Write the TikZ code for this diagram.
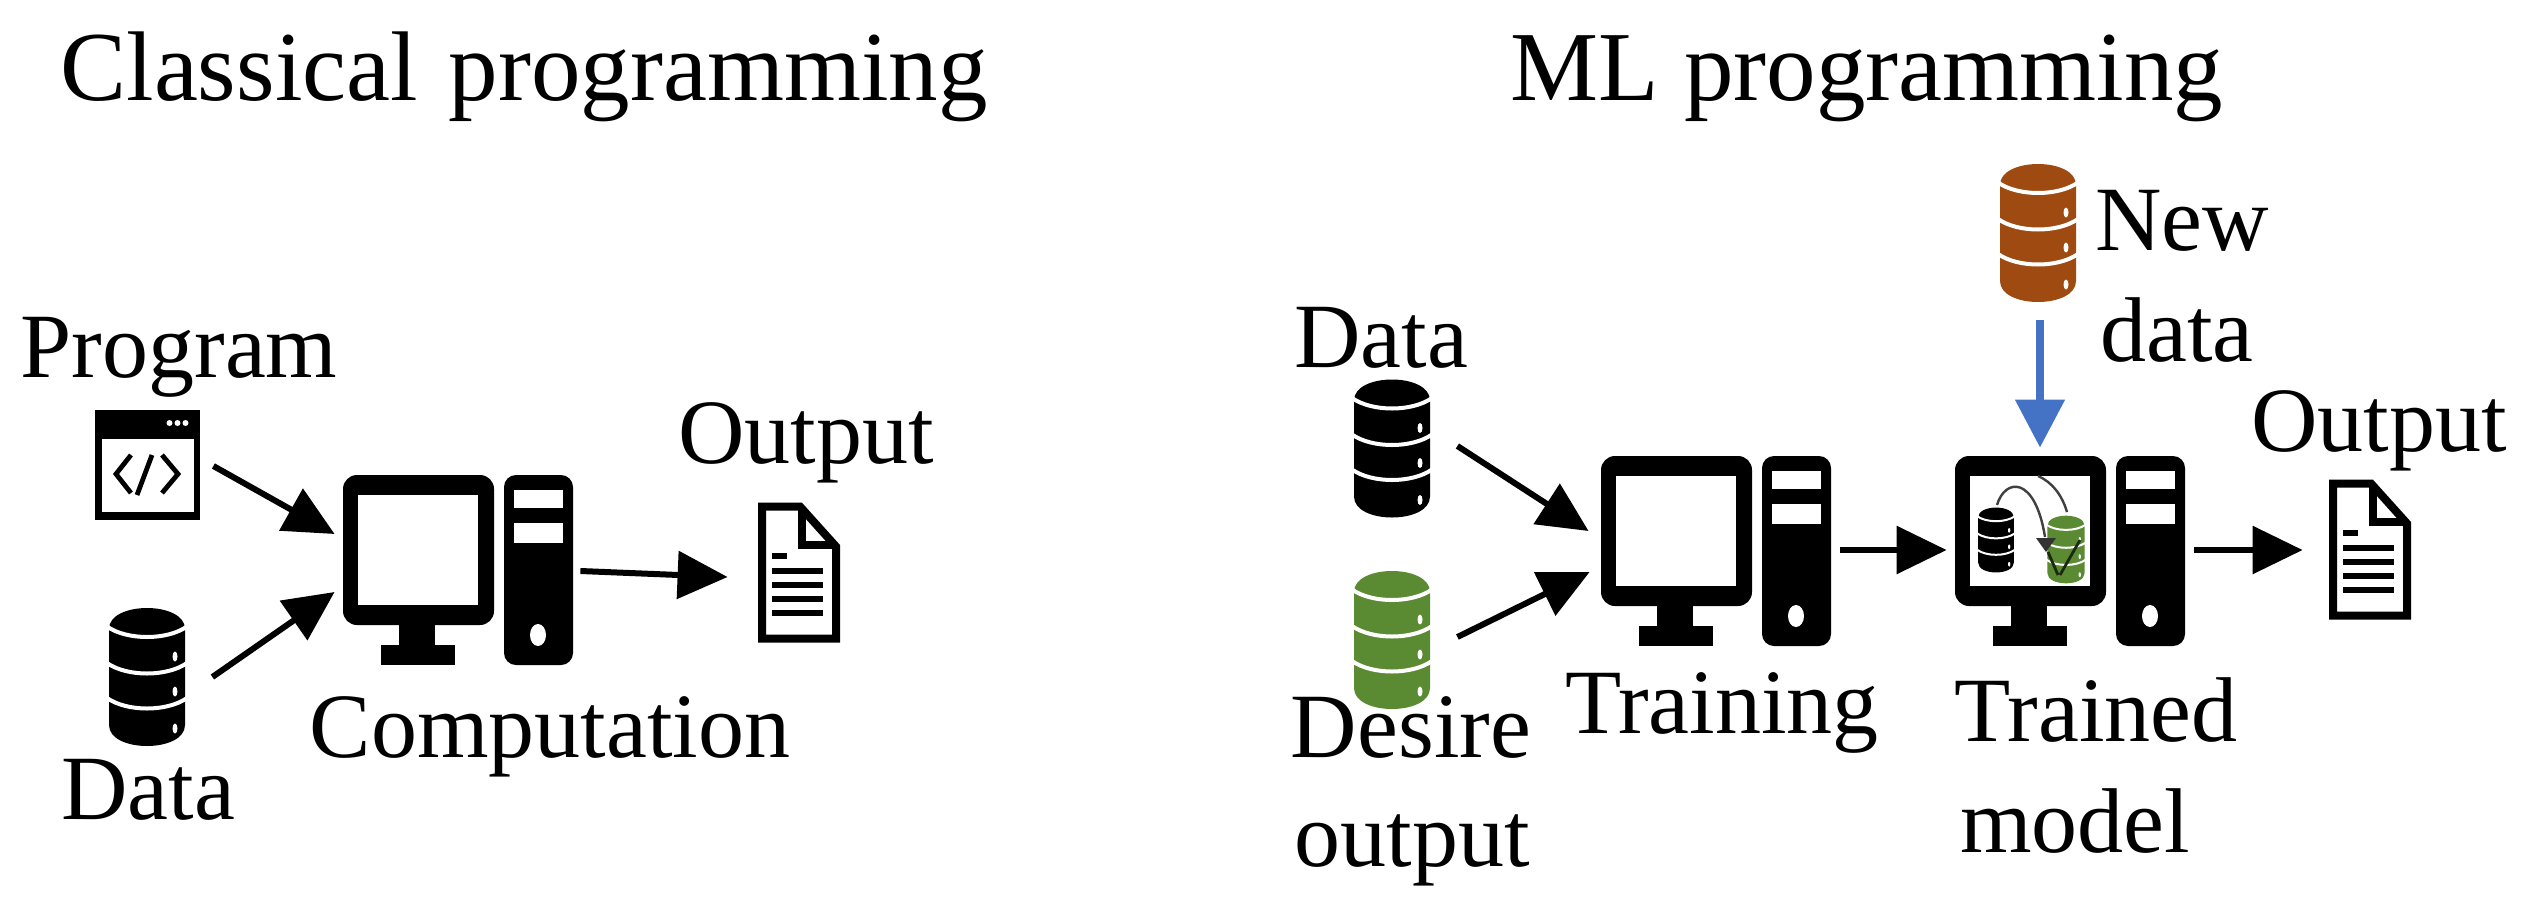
\documentclass[tikz,border=0pt]{standalone}
\usepackage{fontspec}
\setmainfont{Liberation Serif}
\usetikzlibrary{arrows.meta}
\definecolor{brownc}{HTML}{9E4A10}
\definecolor{greenc}{HTML}{5A8A32}
\definecolor{bluec}{HTML}{4472C4}
\tikzset{
  lab/.style={anchor=base,inner sep=0pt,font=\fontsize{46}{50}\selectfont},
  ttl/.style={anchor=base,inner sep=0pt,font=\fontsize{49.5}{54}\selectfont},
  box/.style={inner sep=0pt,draw=none},
  arr/.style={line width=3pt,-{Triangle[length=25pt,width=23.5pt]}},
  bluearr/.style={line width=4pt,bluec,-{Triangle[length=24pt,width=24pt]}},
  hole/.style={fill=white,draw=none}
}
% computer icon, centred at #1
\newcommand{\computericon}[1]{%
  \begin{scope}[shift={(#1)}]
    \fill[rounded corners=7pt] (-115,-95) rectangle (36,55);
    \fill[hole] (-100,-75) rectangle (20,35);
    \fill (-59,55) rectangle (-23,76);
    \fill (-77,75) rectangle (-3,95);
    \fill[rounded corners=6pt] (46,-95) rectangle (115,95);
    \fill[hole] (56,-80) rectangle (105,-62);
    \fill[hole] (56,-47) rectangle (105,-27);
    \fill[hole] (80,65) ellipse [x radius=8,y radius=11];
  \end{scope}}
% database icon: centre, colour, scale, gap width
\newcommand{\dbicon}[4]{%
  \begin{scope}[shift={(#1)},scale=#3]
    \fill[#2] (-38,-48) .. controls (-38,-76) and (38,-76) .. (38,-48)
      -- (38,48) .. controls (38,76) and (-38,76) .. (-38,48) -- cycle;
    \foreach \gy in {-38.5,-2,33}{
      \draw[white,line width=#4] (-40,\gy-12) .. controls (-20,\gy+2) and (20,\gy+2) .. (40,\gy-12);
    }
    \foreach \dy in {-20.5,14.5,51.5}{
      \fill[white] (28,\dy) ellipse [x radius=2.5,y radius=5];
    }
  \end{scope}}
% document icon, centred at #1
\newcommand{\docicon}[1]{%
  \begin{scope}[shift={(#1)}]
    \draw[line width=4pt,fill=white,line join=miter] (-37,-66) -- (1,-66) -- (37,-26) -- (37,66) -- (-37,66) -- cycle;
    \draw[line width=4pt,line join=miter] (3,-66) -- (3,-28) -- (37,-28);
    \foreach \ly in {-1.5,12.5,26.5,40.5}{
      \draw[line width=2.6pt] (-27,\ly) -- (24,\ly);
    }
    \draw[line width=2.6pt] (-27,-16.5) -- (-12,-16.5);
  \end{scope}}
\begin{document}
\begin{tikzpicture}[x=0.5pt,y=-0.5pt]
\useasboundingbox (0,0) rectangle (2528,916);
\fill[white] (0,0) rectangle (2528,916);

% titles
\node[ttl] (t1) at (524,100) {Classical\hspace{3pt} programming};
\node[ttl] (t2) at (1867,100) {ML programming};

% left: icon nodes
\node[box,minimum width=52.5pt,minimum height=55pt] (prog) at (147.5,465) {};
\node[box,minimum width=38pt,minimum height=67.5pt] (data1) at (147,677) {};
\node[box,minimum width=115pt,minimum height=95pt] (comp1) at (458,570) {};
\node[box,minimum width=41pt,minimum height=70.5pt] (doc1) at (799,572.5) {};

% program window
\begin{scope}[shift={(147.5,465)}]
  \fill (-52.5,-55) rectangle (52.5,55);
  \fill[hole] (-46,-26) rectangle (46.5,47);
  \foreach \px in {22,30,38}{\fill[white] (\px,-42) circle [radius=3];}
  \draw[line width=2.4pt,line join=miter] (-16.5,-10) -- (-31.5,9) -- (-16.5,28);
  \draw[line width=2.4pt] (4.5,-10) -- (-10.5,30);
  \draw[line width=2.4pt,line join=miter] (14.5,-10) -- (30.5,9) -- (14.5,28);
\end{scope}
\dbicon{147,677}{black}{1}{2pt}
\computericon{458,570}
\docicon{799,572.5}

\node[lab] (lprog) at (179,377) {Program};
\node[lab] (ldata1) at (148,819) {Data};
\node[lab] (lcomp) at (550,757) {Computation};
\node[lab] (lout1) at (806,463) {Output};

\draw[arr] ([shift={(13,1)}]prog.east) -- ([shift={(-8,-36)}]comp1.west);
\draw[arr] ([shift={(27,0)}]data1.east) -- ([shift={(-8,22)}]comp1.west);
\draw[arr] ([shift={(7,1)}]comp1.east) -- ([shift={(-30,4.5)}]doc1.west);

% right: icon nodes
\node[box,minimum width=38pt,minimum height=68.5pt] (data2) at (1392,448.5) {};
\node[box,minimum width=38pt,minimum height=68.5pt] (desire) at (1392,640) {};
\node[box,minimum width=38pt,minimum height=68pt] (newdata) at (2038,233) {};
\node[box,minimum width=115pt,minimum height=95pt] (comp2) at (1716,551) {};
\node[box,minimum width=115pt,minimum height=95pt] (comp3) at (2070,551) {};
\node[box,minimum width=41pt,minimum height=70.5pt] (doc2) at (2370,549.5) {};

\dbicon{1392,448.5}{black}{1}{2pt}
\dbicon{1392,640}{greenc}{1}{2pt}
\dbicon{2038,233}{brownc}{1}{2pt}
\computericon{1716,551}
\computericon{2070,551}
\docicon{2370,549.5}

% miniature of the model in the screen of the trained computer
\dbicon{1996,540}{black}{0.47}{1pt}
\dbicon{2066,549.5}{greenc}{0.49}{1pt}
\draw[black!75,line width=1.2pt] (1997,505) .. controls (2005,478) and (2035,475) .. (2045,537);
\draw[black!75,line width=1.2pt] (2038,476) .. controls (2052,482) and (2062,495) .. (2067,512);
\fill[black!80] (2036,538) -- (2056,538) -- (2046,552) -- cycle;
\draw[black!70!greenc,line width=1.4pt] (2048,552) -- (2058,575);
\draw[black!70!greenc,line width=1.4pt] (2080,540) -- (2060,575);

\node[lab] (ldata2) at (1381,367) {Data};
\node[lab] (ldes) at (1411,757) {Desire};
\node[lab] (ldes2) at (1412,866) {output};
\node[lab] (ltrn) at (1722,733) {Training};
\node[lab] (ltrd) at (2096,741) {Trained};
\node[lab] (ltrd2) at (2075,852) {model};
\node[lab] (lnew) at (2182,250) {New};
\node[lab] (lnew2) at (2177,361) {data};
\node[lab] (lout2) at (2379,451) {Output};

\draw[arr] ([shift={(27,-2.5)}]data2.east) -- ([shift={(-12,-20)}]comp2.west);
\draw[arr] ([shift={(27,-3)}]desire.east) -- ([shift={(-11,21)}]comp2.west);
\draw[arr] ([shift={(9,-1)}]comp2.east) -- ([shift={(-8,-1)}]comp3.west);
\draw[arr] ([shift={(9,-1)}]comp3.east) -- ([shift={(-26,0.5)}]doc2.west);
\draw[bluearr] ([shift={(2,19)}]newdata.south) -- ([shift={(-30,-8)}]comp3.north);
\end{tikzpicture}
\end{document}
